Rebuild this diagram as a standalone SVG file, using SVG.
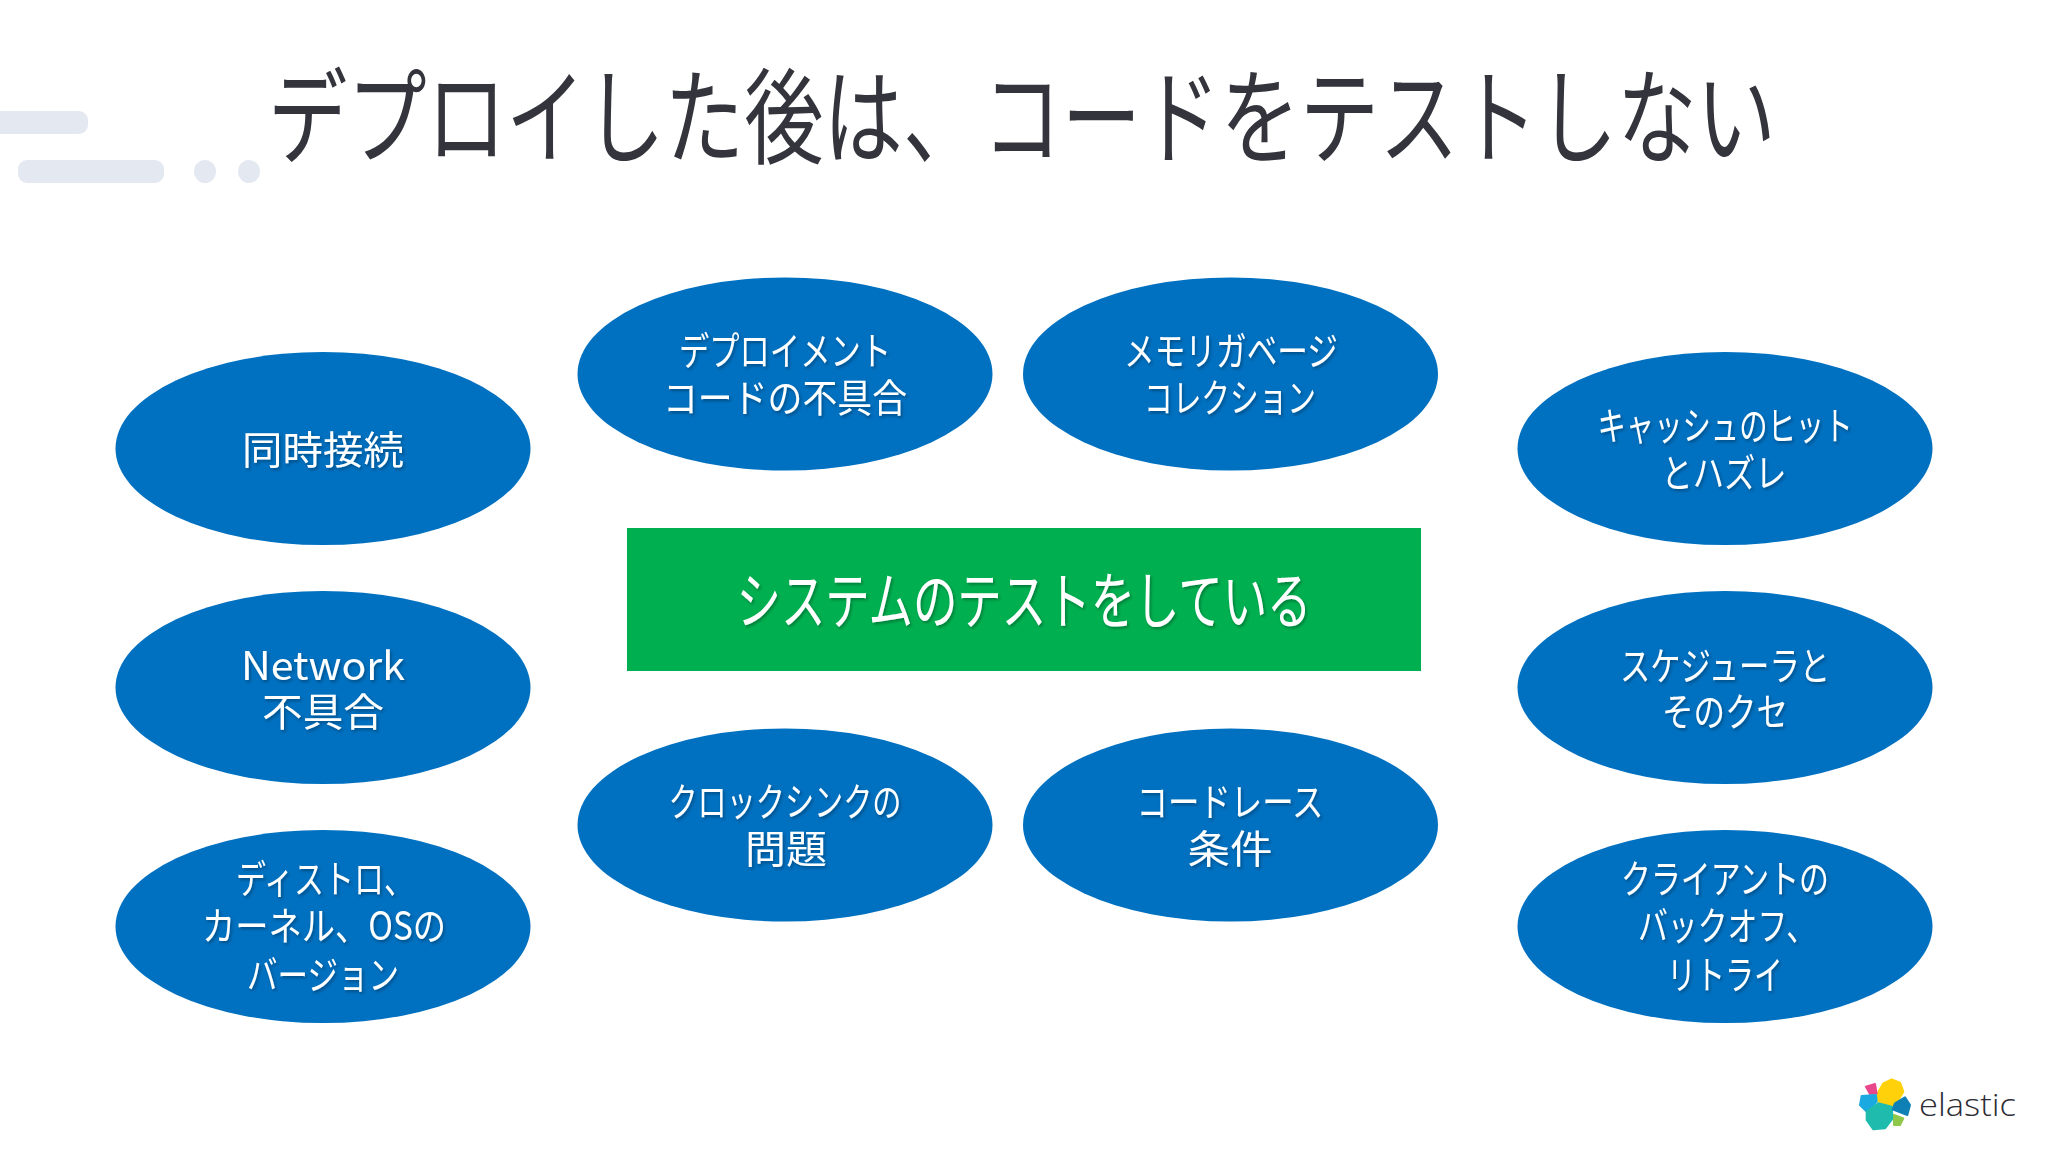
<svg xmlns="http://www.w3.org/2000/svg" width="2048" height="1152" viewBox="0 0 2048 1152">
<style>
text{font-family:"Noto Sans CJK JP","Noto Sans",sans-serif;font-weight:400}
.e{fill:#0070c0}
.t{fill:#fff;font-size:39px;text-anchor:middle;filter:url(#sh)}
.deco{fill:#e4e8f1}
</style>
<defs><filter id="sh" x="-10%" y="-20%" width="120%" height="150%"><feDropShadow dx="1.5" dy="2" stdDeviation="1.5" flood-color="#000" flood-opacity="0.3"/></filter></defs>
<rect width="2048" height="1152" fill="#fff"/>
<g id="decoration">
<rect class="deco" x="-12" y="111" width="100" height="23" rx="9"/>
<rect class="deco" x="18" y="160" width="146" height="23" rx="9"/>
<ellipse class="deco" cx="205" cy="171.500" rx="11" ry="11.500"/>
<ellipse class="deco" cx="249" cy="171.500" rx="11" ry="11.500"/>
</g>
<text id="title" x="268" y="156" font-size="104" fill="#33343c" textLength="1508" lengthAdjust="spacingAndGlyphs">デプロイした後は、コードをテストしない</text>
<g id="center"><rect x="627" y="528" width="794" height="143" fill="#00b050"/><text class="t" style="font-size:62px" x="1024" y="624" textLength="575" lengthAdjust="spacingAndGlyphs">システムのテストをしている</text></g>
<g id="n1"><ellipse class="e" cx="323" cy="448.500" rx="207.500" ry="96.500"/><text class="t" x="323" y="464" textLength="162" lengthAdjust="spacingAndGlyphs">同時接続</text></g>
<g id="n2"><ellipse class="e" cx="323" cy="687.500" rx="207.500" ry="96.500"/><text class="t"><tspan x="323" y="680" textLength="164" lengthAdjust="spacingAndGlyphs">Network</tspan><tspan x="323" y="726" textLength="122" lengthAdjust="spacingAndGlyphs">不具合</tspan></text></g>
<g id="n3"><ellipse class="e" cx="323" cy="926.500" rx="207.500" ry="96.500"/><text class="t"><tspan x="323" y="893" textLength="178" lengthAdjust="spacingAndGlyphs" style="text-anchor:start" dx="-87">ディストロ、</tspan><tspan x="324" y="940" textLength="244" lengthAdjust="spacingAndGlyphs">カーネル、OSの</tspan><tspan x="323" y="989" textLength="152" lengthAdjust="spacingAndGlyphs">バージョン</tspan></text></g>
<g id="n4"><ellipse class="e" cx="785" cy="374" rx="207.500" ry="96.500"/><text class="t"><tspan x="785" y="365" textLength="212" lengthAdjust="spacingAndGlyphs">デプロイメント</tspan><tspan x="785" y="412" textLength="244" lengthAdjust="spacingAndGlyphs">コードの不具合</tspan></text></g>
<g id="n5"><ellipse class="e" cx="1230.500" cy="374" rx="207.500" ry="96.500"/><text class="t"><tspan x="1231" y="365" textLength="214" lengthAdjust="spacingAndGlyphs">メモリガベージ</tspan><tspan x="1230" y="412" textLength="172" lengthAdjust="spacingAndGlyphs">コレクション</tspan></text></g>
<g id="n6"><ellipse class="e" cx="785" cy="825" rx="207.500" ry="96.500"/><text class="t"><tspan x="785" y="816" textLength="233" lengthAdjust="spacingAndGlyphs">クロックシンクの</tspan><tspan x="786" y="863" textLength="82" lengthAdjust="spacingAndGlyphs">問題</tspan></text></g>
<g id="n7"><ellipse class="e" cx="1230.500" cy="825" rx="207.500" ry="96.500"/><text class="t"><tspan x="1230" y="816" textLength="187" lengthAdjust="spacingAndGlyphs">コードレース</tspan><tspan x="1230" y="863" textLength="85" lengthAdjust="spacingAndGlyphs">条件</tspan></text></g>
<g id="n8"><ellipse class="e" cx="1725" cy="448.500" rx="207.500" ry="96.500"/><text class="t"><tspan x="1725" y="440" textLength="255" lengthAdjust="spacingAndGlyphs">キャッシュのヒット</tspan><tspan x="1724" y="487" textLength="125" lengthAdjust="spacingAndGlyphs">とハズレ</tspan></text></g>
<g id="n9"><ellipse class="e" cx="1725" cy="687.500" rx="207.500" ry="96.500"/><text class="t"><tspan x="1725" y="680" textLength="210" lengthAdjust="spacingAndGlyphs">スケジューラと</tspan><tspan x="1725" y="726" textLength="126" lengthAdjust="spacingAndGlyphs">そのクセ</tspan></text></g>
<g id="n10"><ellipse class="e" cx="1725" cy="926.500" rx="207.500" ry="96.500"/><text class="t"><tspan x="1725" y="893" textLength="208" lengthAdjust="spacingAndGlyphs">クライアントの</tspan><tspan x="1725" y="940" textLength="178" lengthAdjust="spacingAndGlyphs" style="text-anchor:start" dx="-87">バックオフ、</tspan><tspan x="1725" y="989" textLength="116" lengthAdjust="spacingAndGlyphs">リトライ</tspan></text></g>
<g id="logo">
<g transform="translate(1820 1060) scale(.3333)" stroke-linejoin="round" stroke-width="6">
<polygon points="170,105 190,70 215,58 240,68 250,95 235,120 215,137 175,125" fill="#fed10a" stroke="#fed10a"/>
<polygon points="138,80 165,72 170,100 150,102" fill="#e8478b" stroke="#e8478b"/>
<polygon points="125,108 168,105 170,125 140,155 120,135" fill="#1ba9e1" stroke="#1ba9e1"/>
<polygon points="175,130 215,140 218,175 195,205 160,208 140,180 140,155" fill="#1fbcae" stroke="#1fbcae"/>
<polygon points="255,112 270,135 262,165 235,155 218,148 225,130" fill="#0f80b5" stroke="#0f80b5"/>
<polygon points="222,165 250,175 240,195 222,195" fill="#8fc74a" stroke="#8fc74a"/>
</g>
<text x="1919" y="1116" font-size="32" fill="#2b2b33" textLength="97" lengthAdjust="spacingAndGlyphs" style="font-family:'Open Sans','Noto Sans',sans-serif;font-weight:300">elastic</text>
</g>
</svg>
